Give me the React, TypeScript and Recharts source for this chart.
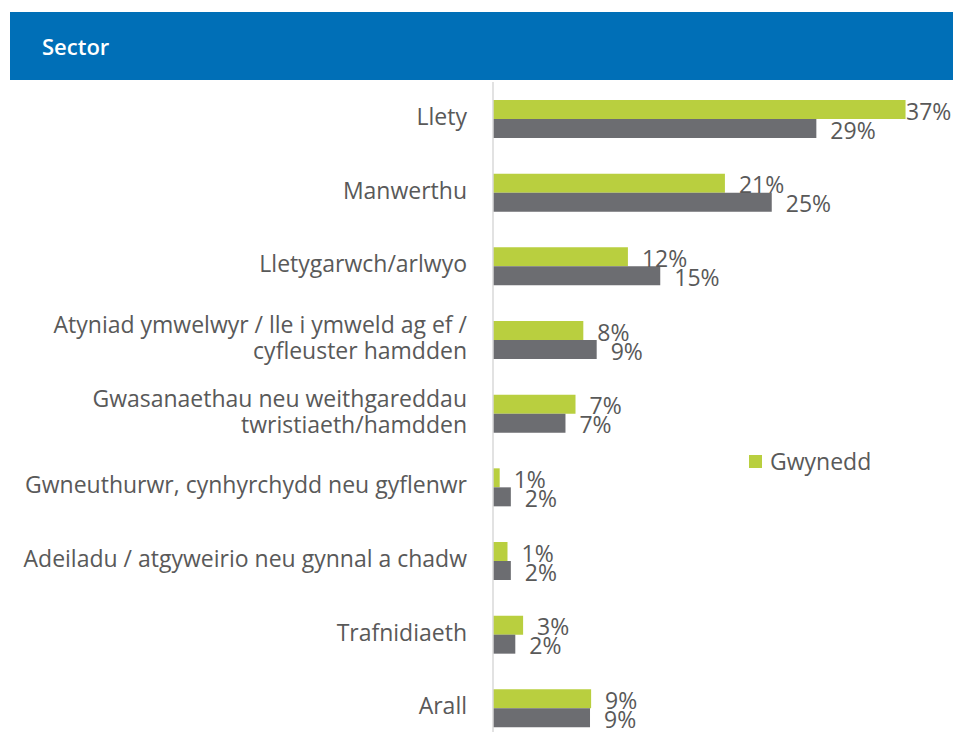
import React from "react"
import { BarChart, Bar, XAxis, YAxis, LabelList, Legend } from "recharts"

// sectors, top to bottom
const categories = [
  "Llety",
  "Manwerthu",
  "Lletygarwch/arlwyo",
  "Atyniad ymwelwyr / lle i ymweld ag ef / cyfleuster hamdden",
  "Gwasanaethau neu weithgareddau twristiaeth/hamdden",
  "Gwneuthurwr, cynhyrchydd neu gyflenwr",
  "Adeiladu / atgyweirio neu gynnal a chadw",
  "Trafnidiaeth",
  "Arall",
]

// label lines as they wrap in the original
const tickLines: Record<string, string[]> = {
  "Atyniad ymwelwyr / lle i ymweld ag ef / cyfleuster hamdden": [
    "Atyniad ymwelwyr / lle i ymweld ag ef /",
    "cyfleuster hamdden",
  ],
  "Gwasanaethau neu weithgareddau twristiaeth/hamdden": [
    "Gwasanaethau neu weithgareddau",
    "twristiaeth/hamdden",
  ],
}

const gwynedd = [37, 20.8, 12.1, 8.1, 7.4, 0.6, 1.3, 2.7, 8.8]
const other = [29, 25, 15, 9.3, 6.5, 1.6, 1.6, 2.0, 8.7]

const data = categories.map((name, i) => ({
  name,
  gwynedd: gwynedd[i],
  other: other[i],
}))

const GREEN = "#b9cf3f"
const GREY = "#6c6d71"
const TEXT = "#595959"
const FONT = "'Open Sans', sans-serif"
const FS = 23

const CategoryTick = (props: any) => {
  const { y, payload } = props
  const lines = tickLines[payload.value] || [payload.value]
  const lh = 26
  const start = y - 2 - ((lines.length - 1) * lh) / 2
  return (
    <text textAnchor="end" fill={TEXT} fontSize={FS} fontFamily={FONT}>
      {lines.map((l: string, i: number) => (
        <tspan key={i} x={459} y={start + i * lh} dy="0.35em">
          {l}
        </tspan>
      ))}
    </text>
  )
}

// value label to the right of the bar, kept inside the chart on the right
const ValueLabel = (props: any) => {
  const { x, y, width, height, value } = props
  const lx = Math.min(x + width + 14, 898)
  return (
    <text
      x={lx}
      y={y + height / 2 + 2}
      dy="0.35em"
      fill={TEXT}
      fontSize={FS}
      fontFamily={FONT}
    >
      {`${Math.round(Number(value))}%`}
    </text>
  )
}

const LegendBox = () => (
  <div style={{ display: "flex", alignItems: "center", fontFamily: FONT, fontSize: FS, color: TEXT }}>
    <span style={{ width: 13, height: 13, background: GREEN, display: "inline-block", marginRight: 8 }} />
    Gwynedd
  </div>
)

export default function App() {
  return (
    <div
      style={{
        position: "fixed",
        left: 0,
        top: 0,
        width: 953,
        height: 732,
        overflow: "hidden",
        background: "#fff",
      }}
    >
      <div
        style={{
          position: "absolute",
          left: 10,
          top: 12,
          width: 943,
          height: 68,
          background: "#006fb7",
          color: "#fff",
          fontFamily: FONT,
          fontWeight: 600,
          fontSize: 22,
          display: "flex",
          alignItems: "center",
          paddingLeft: 32,
          boxSizing: "border-box",
        }}
      >
        Sector
      </div>
      <div style={{ position: "absolute", left: 8, top: 80 }}>
        <BarChart
          width={945}
          height={665}
          data={data}
          layout="vertical"
          margin={{ top: 2, right: 14, bottom: 0, left: 0 }}
          barGap={0}
        >
          <XAxis type="number" domain={[0, 40]} hide />
          <YAxis
            type="category"
            dataKey="name"
            width={485}
            tickLine={false}
            axisLine={{ stroke: "#d9d9d9", strokeWidth: 1.5 }}
            tick={<CategoryTick />}
            interval={0}
          />
          <Legend
            layout="horizontal"
            verticalAlign="middle"
            align="center"
            content={<LegendBox />}
            wrapperStyle={{ position: "absolute", left: 741, top: 365, width: 180 }}
          />
          <Bar dataKey="gwynedd" fill={GREEN} barSize={19} isAnimationActive={false}>
            <LabelList dataKey="gwynedd" content={<ValueLabel />} />
          </Bar>
          <Bar dataKey="other" fill={GREY} barSize={19} isAnimationActive={false}>
            <LabelList dataKey="other" content={<ValueLabel />} />
          </Bar>
        </BarChart>
      </div>
    </div>
  )
}
